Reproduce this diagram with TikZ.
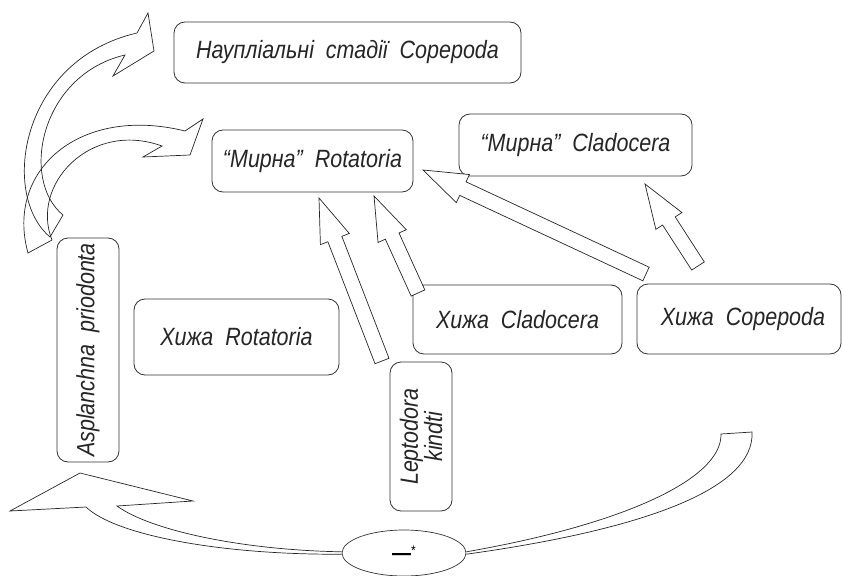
\documentclass[tikz,border=0pt]{standalone}
\usepackage{fontspec}
\setmainfont[FakeStretch=0.86]{Liberation Sans}
\usetikzlibrary{calc,shapes.geometric}

\tikzset{
  box/.style={draw=black!80, line width=0.8pt, rounded corners=11pt, fill=white,
    inner sep=0pt, align=center, text=black!85,
    font=\fontsize{25}{25}\selectfont\itshape},
  blk/.style={draw=black!85, line width=0.7pt, fill=white, line join=miter},
  curv/.style={draw=black!85, line width=0.7pt, line join=miter},
}
% hollow straight arrow from #1 (tail) to #2 (tip)
\newcommand{\blockarr}[2]{%
  \coordinate (hb) at ($(#2)!44pt!(#1)$);
  \draw[blk] ($(#1)!7.5pt!90:(#2)$) -- ($(hb)!7.5pt!-90:(#1)$) -- ($(hb)!15.5pt!-90:(#1)$) -- (#2)
    -- ($(hb)!15.5pt!90:(#1)$) -- ($(hb)!7.5pt!90:(#1)$) -- ($(#1)!7.5pt!-90:(#2)$) -- cycle;}

\begin{document}
\begin{tikzpicture}[x=1pt,y=-1pt]
\useasboundingbox (0,0) rectangle (842,575);

\node[box, minimum width=347pt, minimum height=61pt] (naup) at (347.5,52.5) {Наупліальні\ \ стадії\ \ Copepoda};
\node[box, minimum width=201pt, minimum height=62pt] (mrot) at (312.5,161) {“Мирна”\ \ Rotatoria};
\node[box, minimum width=233pt, minimum height=62pt] (mclad) at (575.5,145) {“Мирна”\ \ Cladocera};
\node[box, rotate=90, minimum width=224pt, minimum height=62pt] (aspl) at (88,350) {Asplanchna\ \ priodonta};
\node[box, minimum width=205pt, minimum height=76pt] (hrot) at (236.5,337) {Хижа\ \ Rotatoria};
\node[box, minimum width=209pt, minimum height=69pt] (hclad) at (517.5,319.5) {Хижа\ \ Cladocera};
\node[box, minimum width=204pt, minimum height=70pt] (hcop) at (739,319) {\hspace{8pt}Хижа\ \ Copepoda};
\node[box, rotate=90, minimum width=149pt, minimum height=62pt, font=\fontsize{25}{23}\selectfont\itshape] (lept) at (421,436.5) {Leptodora\\kindti};
\node[draw=black!80, line width=0.7pt, ellipse, fill=white, inner sep=0pt,
  minimum width=124pt, minimum height=46pt, font=\fontsize{22}{22}\selectfont] (ell) at (404,553) {\textbf{—}\raisebox{5pt}{\fontsize{14}{14}\selectfont *}};

\coordinate (a1t) at (382,361);
\coordinate (a1h) at (319,198);
\coordinate (a2t) at (418,293);
\coordinate (a2h) at (374,196);
\coordinate (a3t) at (646,274);
\coordinate (a3h) at (423,170);
\coordinate (a4t) at (698,266);
\coordinate (a4h) at (645,184);
\blockarr{a1t}{a1h}
\blockarr{a2t}{a2h}
\blockarr{a3t}{a3h}
\blockarr{a4t}{a4h}

% curved arrows on the left
\draw[curv] (63,215) .. controls (20,180) and (40,75) .. (125,55) -- (113,76) -- (154,51) -- (148,13)
  -- (137,33) .. controls (20,60) and (0,195) .. (50,237) -- cycle;
\draw[curv] (52,240) .. controls (30,185) and (90,120) .. (162,146) -- (143,157) -- (190,155) -- (203,119)
  -- (185,131) .. controls (80,105) and (5,170) .. (28,253) -- cycle;

% curved arrows from the ellipse
\draw[curv] ([yshift=1.2pt]ell.west) .. controls (240,550) and (150,530) .. (117,506) -- (193,501) -- (80,473)
  -- (10,511) -- (86,507) .. controls (115,535) and (220,555) .. ([yshift=-1.2pt]ell.west);
\draw[curv] ([yshift=1.2pt]ell.east) .. controls (620,525) and (722,480) .. (721,434) -- (752,432)
  .. controls (755,490) and (640,530) .. ([yshift=-1.2pt]ell.east);
\end{tikzpicture}
\end{document}
